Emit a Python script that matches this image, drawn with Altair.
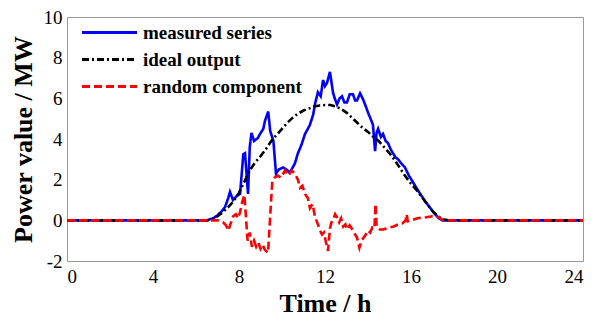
import altair as alt
import pandas as pd

series_names = ["measured series", "ideal output", "random component"]

t_meas = [0, 6.5, 6.8, 7.0, 7.2, 7.35, 7.5, 7.58, 7.72, 7.9, 8.05, 8.2, 8.28, 8.42, 8.5, 8.58,
          8.7, 8.88, 8.95, 9.13, 9.21, 9.36, 9.45, 9.6, 9.72, 9.85, 10.05, 10.2, 10.37, 10.5,
          10.6, 10.74, 10.9, 11.07, 11.2, 11.3, 11.45, 11.53, 11.67, 11.8, 11.91, 12.0, 12.09,
          12.23, 12.37, 12.45, 12.56, 12.68, 12.79, 12.9, 13.02, 13.15, 13.3, 13.4, 13.49, 13.63,
          13.77, 13.9, 14.0, 14.12, 14.23, 14.33, 14.4, 14.47, 14.6, 14.7, 14.82, 14.93, 15.05,
          15.16, 15.28, 15.4, 15.55, 15.72, 15.9, 16.05, 16.19, 16.4, 16.65, 16.9, 17.12, 17.3,
          17.45, 24]
v_meas = [0, 0, 0.1, 0.25, 0.45, 0.65, 1.1, 1.4, 1.0, 1.2, 1.3, 3.25, 3.3, 1.3, 3.6, 4.3,
          3.9, 4.05, 4.2, 4.5, 4.9, 5.35, 4.4, 3.9, 2.3, 2.5, 2.6, 2.5, 2.35, 2.6,
          2.8, 3.3, 3.7, 4.25, 4.5, 4.7, 5.2, 5.7, 6.3, 6.1, 6.9, 6.6, 6.75,
          7.3, 6.3, 6.0, 5.7, 6.0, 6.1, 5.8, 5.8, 6.2, 6.2, 5.9, 5.9, 6.25,
          5.95, 5.6, 5.3, 5.0, 4.7, 3.4, 4.3, 4.5, 4.1, 4.25, 3.9, 3.8, 3.5,
          3.3, 3.1, 3.0, 2.8, 2.6, 2.2, 1.95, 1.7, 1.35, 0.95, 0.6, 0.3, 0.1,
          0.0, 0]

t_ideal = [0, 6.5, 6.75, 7.0, 7.25, 7.5, 7.75, 8.0, 8.25, 8.5, 8.75, 9.0, 9.25, 9.5, 9.75,
           10.0, 10.25, 10.5, 10.75, 11.0, 11.25, 11.5, 11.75, 12.0, 12.25, 12.5, 12.75, 13.0,
           13.25, 13.5, 13.75, 14.0, 14.25, 14.5, 14.75, 15.0, 15.25, 15.5, 15.75, 16.0, 16.25,
           16.5, 16.75, 17.0, 17.25, 17.5, 17.75, 24]
v_ideal = [0, 0, 0.05, 0.2, 0.4, 0.65, 0.95, 1.35, 1.9, 2.45, 2.85, 3.15, 3.5, 3.9, 4.2,
           4.5, 4.8, 5.05, 5.25, 5.4, 5.5, 5.6, 5.65, 5.67, 5.67, 5.6, 5.48, 5.3,
           5.05, 4.8, 4.55, 4.35, 4.1, 3.9, 3.6, 3.3, 2.95, 2.55, 2.15, 1.8, 1.5,
           1.15, 0.8, 0.45, 0.2, 0.05, 0, 0]

t_rand = [0, 6.5, 7.0, 7.26, 7.4, 7.5, 7.6, 7.73, 7.85, 7.95, 8.05, 8.15, 8.25, 8.32, 8.4,
          8.5, 8.6, 8.7, 8.8, 8.9, 9.0, 9.1, 9.2, 9.35, 9.45, 9.55, 9.65, 9.8, 9.95, 10.14,
          10.3, 10.45, 10.6, 10.74, 10.84, 10.95, 11.07, 11.2, 11.3, 11.42, 11.53, 11.67, 11.77,
          11.86, 11.95, 12.05, 12.14, 12.23, 12.3, 12.37, 12.47, 12.56, 12.66, 12.75, 12.85,
          12.95, 13.02, 13.15, 13.3, 13.4, 13.49, 13.6, 13.7, 13.8, 13.9, 14.0, 14.1, 14.2,
          14.3, 14.35, 14.4, 14.55, 14.7, 14.85, 15.0, 15.2, 15.4, 15.6, 15.75, 15.8, 15.85,
          16.0, 16.3, 16.7, 17.0, 17.3, 17.5, 24]
v_rand = [0, 0, 0, -0.1, -0.25, -0.5, -0.2, 0.2, 0.3, 0.1, 0.4, 0.9, 1.25, 0.2, -1.0,
          -0.6, -1.3, -1.0, -1.3, -1.1, -1.4, -1.2, -1.45, -1.6, 0.2, 1.95, 2.1, 2.2, 2.1, 2.45,
          2.2, 2.45, 2.3, 2.0, 1.6, 1.7, 1.3, 1.1, 0.6, 0.8, 0.2, -0.2, -0.5,
          -0.7, -0.6, -1.1, -1.5, -0.4, -0.1, 0.0, 0.3, 0.15, -0.1, 0.1, -0.3,
          -0.2, -0.45, -0.25, -0.5, -0.7, -0.85, -1.35, -1.0, -0.85, -0.7, -0.5, -0.6, -0.35,
          -0.4, 0.8, -0.3, -0.45, -0.45, -0.4, -0.35, -0.3, -0.2, -0.15, 0.0, 0.3, -0.05,
          0.0, 0.1, 0.15, 0.2, 0.15, 0.0, 0]

x_ticks = [0, 4, 8, 12, 16, 20, 24]
y_ticks = [-2, 0, 2, 4, 6, 8, 10]

rows = []
for name, ts, vs in zip(series_names, [t_meas, t_ideal, t_rand], [v_meas, v_ideal, v_rand]):
    for i, (t, v) in enumerate(zip(ts, vs)):
        rows.append({"series": name, "t": t, "v": v, "i": i})
df = pd.DataFrame(rows)

color_scale = alt.Scale(domain=series_names, range=["#0000ff", "#000000", "#ff0000"])
dash_scale = alt.Scale(domain=series_names, range=[[1, 0], [7, 3, 2, 3], [8, 4]])

leg = alt.Legend(
    title=None, orient="none", legendX=9, legendY=4,
    symbolType="M-1,0H9", symbolSize=121, symbolStrokeWidth=3,
    labelOffset=46, labelFont="Liberation Serif", labelFontSize=19,
    labelFontWeight="bold", labelColor="black", rowPadding=7,
    padding=2,
)

xenc = alt.X("t:Q", scale=alt.Scale(domain=[0, 24], nice=False),
             axis=alt.Axis(values=x_ticks, title="Time / h", labelPadding=6, titlePadding=4))
yenc = alt.Y("v:Q", scale=alt.Scale(domain=[-2, 10], nice=False),
             axis=alt.Axis(values=y_ticks, title="Power value / MW", labelPadding=5,
                           titlePadding=7, labelExpr="'' + datum.value"))

layers = []
for name in series_names:
    layers.append(
        alt.Chart(df).transform_filter(alt.datum.series == name).mark_line(strokeWidth=2.6).encode(
            x=xenc, y=yenc,
            color=alt.Color("series:N", scale=color_scale, legend=leg),
            strokeDash=alt.StrokeDash("series:N", scale=dash_scale, legend=leg),
            order="i:Q",
        )
    )

chart = alt.layer(*layers).properties(
    width=516, height=244, autosize="none",
    padding={"left": 59, "top": 9, "right": 2, "bottom": 56},
).configure_axis(
    labelFont="Liberation Serif", labelFontSize=19, labelColor="black",
    titleFont="Liberation Serif", titleFontSize=26, titleFontWeight="bold", titleColor="black",
    grid=False, ticks=False, domain=False,
).configure_view(stroke="#999999", strokeWidth=1)

chart.save("out.html", embed_options={"renderer": "svg", "actions": False})
